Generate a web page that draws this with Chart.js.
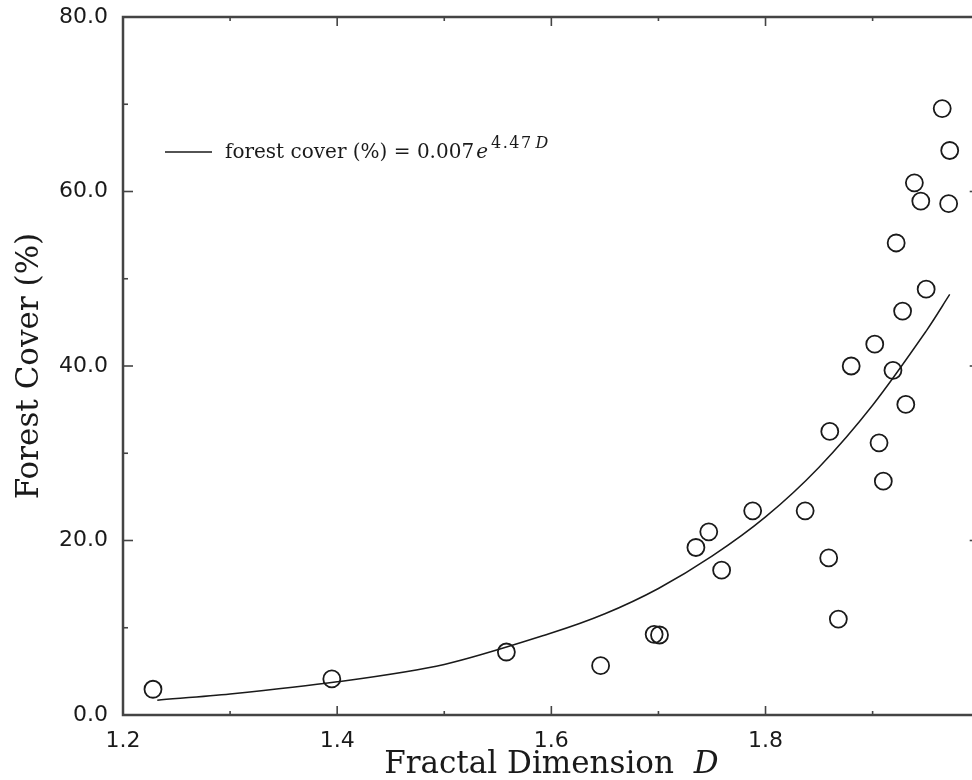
<!DOCTYPE html>
<html>
<head>
<meta charset="utf-8">
<title>Forest cover vs fractal dimension</title>
<script src="https://cdn.jsdelivr.net/npm/chart.js@4.4.0/dist/chart.umd.min.js"></script>
<style>
    html, body { margin: 0; padding: 0; background: #fff; overflow: hidden; }
    #wrap { width: 990px; height: 780px; }
</style>
</head>
<body>
<div id="wrap"><canvas id="chart" width="990" height="780"></canvas></div>
<script>
    // Observed points: fractal dimension D vs forest cover (%)
    const fractalD = [1.228, 1.395, 1.558, 1.646, 1.696, 1.701, 1.735, 1.747, 1.759, 1.788,
                      1.837, 1.859, 1.868, 1.860, 1.880, 1.902, 1.906, 1.910, 1.919, 1.922,
                      1.928, 1.931, 1.939, 1.945, 1.950, 1.965, 1.971, 1.972];
    const forestCover = [2.95, 4.13, 7.22, 5.65, 9.25, 9.17, 19.2, 21.0, 16.6, 23.4,
                         23.4, 18.0, 11.0, 32.5, 40.0, 42.5, 31.2, 26.8, 39.5, 54.1,
                         46.3, 35.6, 61.0, 58.9, 48.8, 69.5, 58.6, 64.7];

    // Fitted curve
    const fitD = [1.232, 1.30, 1.40, 1.50, 1.60, 1.65, 1.70, 1.75, 1.80, 1.85, 1.90, 1.95, 1.972];
    const fitCover = [1.7, 2.4, 3.8, 5.8, 9.4, 11.6, 14.5, 18.2, 22.7, 28.4, 35.5, 44.0, 48.2];

    // Axis ticks
    const xTicks = [1.2, 1.4, 1.6, 1.8];
    const xMinor = [1.3, 1.5, 1.7, 1.9];
    const yTicks = [0, 20, 40, 60, 80];
    const yMinor = [10, 30, 50, 70];

    const INK = '#1a1a1a';
    const AXIS = '#444';

    /**
     * Box frame with inward major/minor tick marks
     */
    const framePlugin = {
        id: 'frame',
        afterDraw(chart) {
            const { ctx, chartArea: a, scales: { x, y } } = chart;
            ctx.save();
            ctx.strokeStyle = AXIS;
            ctx.lineWidth = 2.5;
            ctx.strokeRect(a.left, a.top, a.right - a.left, a.bottom - a.top);

            const seg = (x1, y1, x2, y2) => {
                ctx.beginPath();
                ctx.moveTo(x1, y1);
                ctx.lineTo(x2, y2);
                ctx.stroke();
            };
            ctx.lineWidth = 1.6;
            xTicks.forEach(v => {
                const px = x.getPixelForValue(v);
                seg(px, a.bottom, px, a.bottom - 9);
                seg(px, a.top, px, a.top + 9);
            });
            xMinor.forEach(v => {
                const px = x.getPixelForValue(v);
                seg(px, a.bottom, px, a.bottom - 4);
                seg(px, a.top, px, a.top + 4);
            });
            yTicks.forEach(v => {
                const py = y.getPixelForValue(v);
                seg(a.left, py, a.left + 10, py);
                seg(a.right, py, a.right - 10, py);
            });
            yMinor.forEach(v => {
                const py = y.getPixelForValue(v);
                seg(a.left, py, a.left + 5, py);
                seg(a.right, py, a.right - 5, py);
            });
            ctx.restore();
        }
    };

    /**
     * Axis titles and the equation legend (mixed italic text)
     */
    const textPlugin = {
        id: 'texts',
        afterDraw(chart) {
            const { ctx, chartArea: a } = chart;
            ctx.save();
            ctx.fillStyle = INK;
            ctx.textBaseline = 'alphabetic';

            // x title
            const serif = '31px "DejaVu Serif"';
            const xMain = 'Fractal Dimension  ';
            ctx.font = serif;
            const w1 = ctx.measureText(xMain).width;
            ctx.font = 'italic ' + serif;
            const w2 = ctx.measureText('D').width;
            const cx = (a.left + a.right) / 2;
            let sx = cx - (w1 + w2) / 2;
            ctx.textAlign = 'left';
            ctx.font = serif;
            ctx.fillText(xMain, sx, 773);
            ctx.font = 'italic ' + serif;
            ctx.fillText('D', sx + w1, 773);

            // y title
            ctx.save();
            ctx.translate(38, (a.top + a.bottom) / 2);
            ctx.rotate(-Math.PI / 2);
            ctx.textAlign = 'center';
            ctx.font = serif;
            ctx.fillText('Forest Cover (%)', 0, 0);
            ctx.restore();

            // legend
            ctx.strokeStyle = INK;
            ctx.lineWidth = 1.5;
            ctx.beginPath();
            ctx.moveTo(165, 152);
            ctx.lineTo(212, 152);
            ctx.stroke();

            const lf = '20px "DejaVu Serif"';
            let lx = 225;
            ctx.textAlign = 'left';
            ctx.font = lf;
            const t1 = 'forest cover (%) = 0.007';
            ctx.fillText(t1, lx, 158);
            lx += ctx.measureText(t1).width + 2;
            ctx.font = 'italic ' + lf;
            ctx.fillText('e', lx, 158);
            lx += ctx.measureText('e').width + 3;
            ctx.letterSpacing = '1.5px';
            ctx.font = '16px "DejaVu Serif"';
            ctx.fillText('4.47', lx, 148);
            lx += ctx.measureText('4.47').width + 3;
            ctx.font = 'italic 16px "DejaVu Serif"';
            ctx.fillText('D', lx, 148);
            ctx.letterSpacing = '0px';
            ctx.restore();
        }
    };

    const fmt = v => Number(v).toFixed(1);

    new Chart(document.getElementById('chart').getContext('2d'), {
        type: 'scatter',
        data: {
            datasets: [
                {
                    label: 'fit',
                    data: fitD.map((d, i) => ({ x: d, y: fitCover[i] })),
                    showLine: true,
                    borderColor: INK,
                    borderWidth: 1.5,
                    pointRadius: 0,
                    tension: 0.3,
                    fill: false
                },
                {
                    label: 'observed',
                    data: fractalD.map((d, i) => ({ x: d, y: forestCover[i] })),
                    pointRadius: 8.5,
                    pointBorderWidth: 1.8,
                    pointBorderColor: INK,
                    pointBackgroundColor: 'rgba(255,255,255,0)',
                    pointStyle: 'circle'
                }
            ]
        },
        options: {
            responsive: false,
            animation: false,
            devicePixelRatio: 1,
            layout: { padding: { left: 0, top: 17, right: 9, bottom: 0 } },
            plugins: {
                legend: { display: false },
                tooltip: { enabled: false }
            },
            scales: {
                x: {
                    type: 'linear',
                    min: 1.2,
                    max: 2.0,
                    grid: { display: false },
                    border: { display: false },
                    afterBuildTicks: s => { s.ticks = xTicks.map(v => ({ value: v })); },
                    afterFit: s => { s.height = 65; s.paddingLeft = 0; s.paddingRight = 0; },
                    ticks: {
                        padding: 5,
                        color: INK,
                        font: { family: 'DejaVu Sans', size: 22 },
                        callback: fmt,
                        maxRotation: 0
                    }
                },
                y: {
                    type: 'linear',
                    min: 0,
                    max: 80,
                    grid: { display: false },
                    border: { display: false },
                    afterBuildTicks: s => { s.ticks = yTicks.map(v => ({ value: v })); },
                    afterFit: s => { s.width = 123; s.paddingTop = 0; s.paddingBottom = 0; },
                    ticks: {
                        padding: 7,
                        color: INK,
                        font: { family: 'DejaVu Sans', size: 22 },
                        callback: fmt
                    }
                }
            }
        },
        plugins: [framePlugin, textPlugin]
    });
</script>
</body>
</html>
